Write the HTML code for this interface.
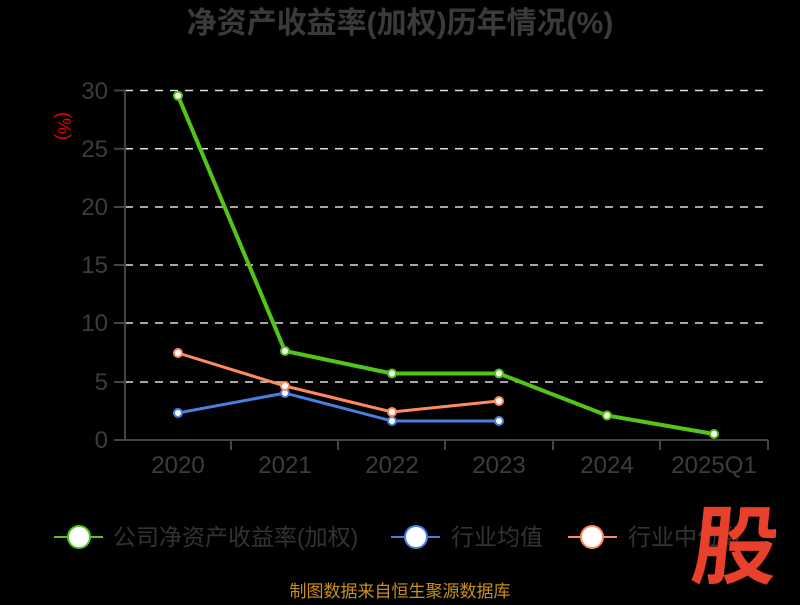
<!DOCTYPE html>
<html><head><meta charset="utf-8"><style>
body{margin:0;background:#000;width:800px;height:600px;overflow:hidden}
svg text{font-family:"Liberation Sans","Noto Sans CJK SC",sans-serif}
</style></head><body>
<svg width="800" height="600" xmlns="http://www.w3.org/2000/svg">
<rect width="800" height="600" fill="#000"/>
<text x="400" y="33" text-anchor="middle" font-size="30" font-weight="bold" fill="#3a3a3a">净资产收益率(加权)历年情况(%)</text>
<g stroke="#ddd" stroke-width="1.5" stroke-dasharray="8,7">
<line x1="125" y1="90.5" x2="768" y2="90.5"/>
<line x1="125" y1="148.8" x2="768" y2="148.8"/>
<line x1="125" y1="207" x2="768" y2="207"/>
<line x1="125" y1="265" x2="768" y2="265"/>
<line x1="125" y1="323" x2="768" y2="323"/>
<line x1="125" y1="382" x2="768" y2="382"/>
</g>
<g stroke="#444" stroke-width="2">
<line x1="125" y1="90" x2="125" y2="441"/>
<line x1="124" y1="440" x2="768" y2="440"/>
<line x1="114" y1="90.5" x2="125" y2="90.5"/><line x1="114" y1="148.8" x2="125" y2="148.8"/>
<line x1="114" y1="207" x2="125" y2="207"/><line x1="114" y1="265" x2="125" y2="265"/>
<line x1="114" y1="323" x2="125" y2="323"/><line x1="114" y1="382" x2="125" y2="382"/>
<line x1="114" y1="440" x2="125" y2="440"/>
<line x1="231" y1="440" x2="231" y2="450"/><line x1="338" y1="440" x2="338" y2="450"/>
<line x1="445" y1="440" x2="445" y2="450"/><line x1="553" y1="440" x2="553" y2="450"/>
<line x1="660" y1="440" x2="660" y2="450"/><line x1="768" y1="440" x2="768" y2="450"/>
</g>
<g font-size="24" fill="#3c3c3c" text-anchor="end">
<text x="108" y="99">30</text><text x="108" y="157">25</text><text x="108" y="215">20</text>
<text x="108" y="273">15</text><text x="108" y="331">10</text><text x="108" y="390">5</text><text x="108" y="448">0</text>
</g>
<g font-size="24" fill="#3c3c3c" text-anchor="middle">
<text x="178" y="473">2020</text><text x="285" y="473">2021</text><text x="392" y="473">2022</text>
<text x="499" y="473">2023</text><text x="607" y="473">2024</text><text x="714" y="473">2025Q1</text>
</g>
<text transform="translate(58,126) rotate(90)" font-size="18" fill="#e00" text-anchor="middle">(%)</text>
<polyline points="178,95.8 285,351 392,373.5 499,373.5 607,415.5 714,434" fill="none" stroke="#52c41a" stroke-width="4"/>
<polyline points="178,413 285,393 392,421 499,421" fill="none" stroke="#4a7fe0" stroke-width="3"/>
<polyline points="178,353 285,386 392,412 499,401" fill="none" stroke="#ff8a5c" stroke-width="3"/>
<g fill="#fff" stroke="#52c41a" stroke-width="2">
<circle cx="178" cy="95.8" r="4"/><circle cx="285" cy="351" r="4"/><circle cx="392" cy="373.5" r="4"/>
<circle cx="499" cy="373.5" r="4"/><circle cx="607" cy="415.5" r="4"/><circle cx="714" cy="434" r="4"/></g>
<g fill="#fff" stroke="#4a7fe0" stroke-width="2">
<circle cx="178" cy="413" r="4"/><circle cx="285" cy="393" r="4"/><circle cx="392" cy="421" r="4"/><circle cx="499" cy="421" r="4"/></g>
<g fill="#fff" stroke="#ff8a5c" stroke-width="2">
<circle cx="178" cy="353" r="4"/><circle cx="285" cy="386" r="4"/><circle cx="392" cy="412" r="4"/><circle cx="499" cy="401" r="4"/></g>
<line x1="54" y1="537" x2="103" y2="537" stroke="#52c41a" stroke-width="2"/>
<circle cx="79" cy="537" r="11" fill="#fff" stroke="#52c41a" stroke-width="2"/>
<text x="113" y="545" font-size="23" fill="#333">公司净资产收益率(加权)</text>
<line x1="391" y1="537" x2="440" y2="537" stroke="#4a7fe0" stroke-width="2"/>
<circle cx="416" cy="537" r="11" fill="#fff" stroke="#4a7fe0" stroke-width="2"/>
<text x="451" y="545" font-size="23" fill="#333">行业均值</text>
<line x1="568" y1="537" x2="617" y2="537" stroke="#ff8a5c" stroke-width="2"/>
<circle cx="592" cy="537" r="11" fill="#fff" stroke="#ff8a5c" stroke-width="2"/>
<text x="628" y="545" font-size="23" fill="#333">行业中位数</text>
<text x="735" y="577" font-size="86" font-weight="bold" fill="#e8402a" text-anchor="middle" transform="skewX(-6) translate(58,0)">股</text>
<text x="400" y="597" font-size="17" fill="#c8901c" text-anchor="middle">制图数据来自恒生聚源数据库</text>
</svg>
</body></html>
